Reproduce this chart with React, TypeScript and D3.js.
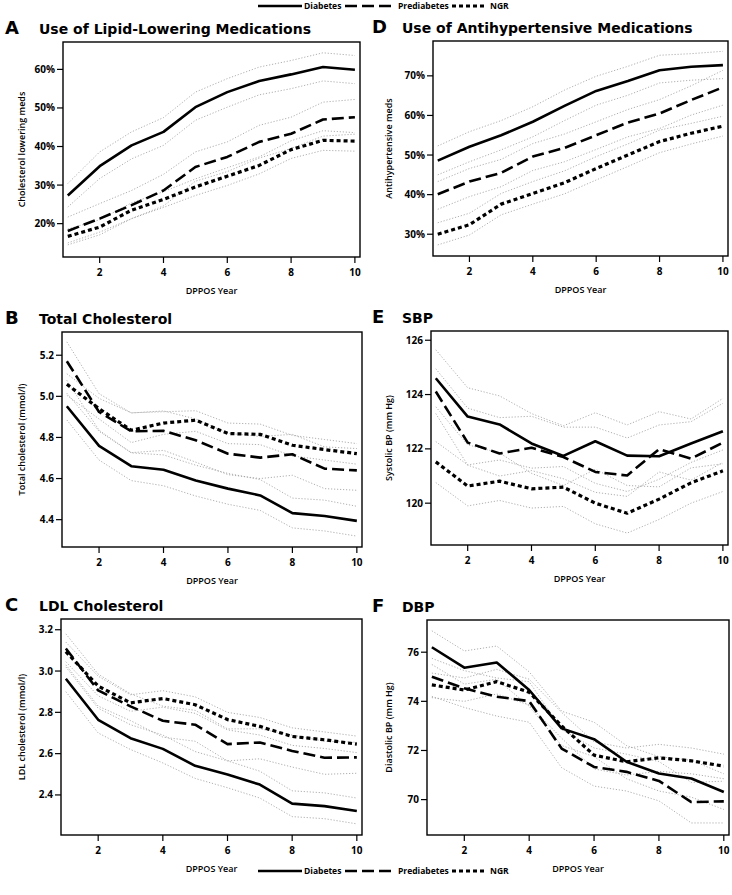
import React from "react";
import * as d3 from "d3";

const years = [1, 2, 3, 4, 5, 6, 7, 8, 9, 10];
const groups = ["Diabetes", "Prediabetes", "NGR"];

// A: lipid-lowering meds (%)
const lipidDia = [27.3, 34.9, 40.3, 43.8, 50.2, 54.1, 57.0, 58.7, 60.6, 59.9];
const lipidDiaHi = [30.4, 38.6, 43.8, 47.5, 54.1, 57.6, 60.6, 62.3, 64.3, 63.6];
const lipidDiaLo = [24.3, 31.7, 36.8, 40.3, 46.8, 50.2, 53.4, 55.0, 57.0, 56.3];
const lipidPre = [18.1, 21.3, 24.8, 28.6, 34.7, 37.3, 41.2, 43.3, 47.0, 47.6];
const lipidPreHi = [21.7, 25.2, 28.6, 32.8, 38.6, 41.2, 45.5, 47.6, 51.5, 52.2];
const lipidPreLo = [15.0, 17.8, 21.3, 24.6, 31.0, 33.5, 37.0, 39.5, 42.7, 43.2];
const lipidNgr = [16.7, 19.1, 23.5, 26.3, 29.5, 32.3, 35.1, 39.2, 41.6, 41.4];
const lipidNgrHi = [18.6, 21.0, 25.4, 28.3, 31.6, 34.5, 37.3, 41.5, 44.1, 43.6];
const lipidNgrLo = [14.5, 17.1, 21.3, 24.2, 27.3, 29.9, 32.9, 36.9, 39.0, 38.8];

// B: total cholesterol (mmol/l)
const tcDia = [4.952, 4.759, 4.66, 4.643, 4.591, 4.551, 4.518, 4.432, 4.418, 4.394];
const tcDiaHi = [5.015, 4.83, 4.725, 4.715, 4.665, 4.625, 4.595, 4.505, 4.495, 4.465];
const tcDiaLo = [4.885, 4.69, 4.59, 4.565, 4.515, 4.475, 4.445, 4.36, 4.345, 4.32];
const tcPre = [5.171, 4.924, 4.83, 4.832, 4.786, 4.721, 4.702, 4.718, 4.648, 4.64];
const tcPreHi = [5.265, 5.013, 4.919, 4.929, 4.89, 4.82, 4.805, 4.815, 4.754, 4.746];
const tcPreLo = [5.078, 4.835, 4.726, 4.737, 4.68, 4.619, 4.6, 4.616, 4.551, 4.543];
const tcNgr = [5.059, 4.94, 4.835, 4.87, 4.884, 4.819, 4.815, 4.762, 4.741, 4.721];
const tcNgrHi = [5.11, 4.99, 4.92, 4.925, 4.93, 4.87, 4.865, 4.81, 4.79, 4.77];
const tcNgrLo = [5.005, 4.89, 4.775, 4.815, 4.83, 4.77, 4.765, 4.71, 4.69, 4.67];

// C: LDL cholesterol (mmol/l)
const ldlDia = [2.963, 2.764, 2.675, 2.623, 2.541, 2.499, 2.45, 2.358, 2.346, 2.322];
const ldlDiaHi = [3.02, 2.82, 2.74, 2.69, 2.61, 2.565, 2.515, 2.42, 2.41, 2.385];
const ldlDiaLo = [2.9, 2.7, 2.62, 2.555, 2.48, 2.435, 2.385, 2.295, 2.285, 2.26];
const ldlPre = [3.109, 2.906, 2.829, 2.759, 2.74, 2.646, 2.654, 2.613, 2.58, 2.582];
const ldlPreHi = [3.18, 2.985, 2.89, 2.83, 2.81, 2.72, 2.72, 2.69, 2.66, 2.655];
const ldlPreLo = [3.03, 2.83, 2.76, 2.68, 2.66, 2.565, 2.575, 2.535, 2.5, 2.505];
const ldlNgr = [3.094, 2.927, 2.846, 2.867, 2.837, 2.765, 2.732, 2.683, 2.667, 2.646];
const ldlNgrHi = [3.14, 2.975, 2.885, 2.905, 2.875, 2.8, 2.775, 2.725, 2.705, 2.685];
const ldlNgrLo = [3.045, 2.88, 2.805, 2.825, 2.795, 2.715, 2.69, 2.64, 2.625, 2.605];

// D: antihypertensive meds (%)
const htnDia = [48.6, 52.1, 55.0, 58.4, 62.4, 66.2, 68.7, 71.4, 72.3, 72.7];
const htnDiaHi = [52.3, 55.9, 58.7, 62.2, 66.4, 69.9, 72.4, 75.2, 75.6, 76.2];
const htnDiaLo = [45.0, 48.3, 51.3, 54.6, 58.7, 62.6, 65.1, 68.2, 68.9, 69.3];
const htnPre = [40.1, 43.3, 45.5, 49.6, 51.8, 55.0, 58.2, 60.5, 63.9, 67.1];
const htnPreHi = [43.3, 46.6, 48.9, 52.9, 55.3, 58.4, 61.5, 64.0, 67.5, 71.4];
const htnPreLo = [36.3, 39.5, 42.0, 46.1, 48.3, 51.4, 54.6, 56.7, 60.1, 62.6];
const htnNgr = [30.0, 32.4, 37.6, 40.3, 43.0, 46.6, 50.0, 53.4, 55.5, 57.3];
const htnNgrHi = [32.9, 35.3, 40.3, 43.3, 46.0, 49.6, 52.8, 56.3, 58.0, 59.8];
const htnNgrLo = [27.3, 29.8, 34.9, 37.6, 40.2, 43.7, 47.1, 50.6, 52.8, 54.8];

// E: SBP (mm Hg)
const sbpDia = [124.6, 123.19, 122.9, 122.2, 121.74, 122.28, 121.75, 121.73, 122.2, 122.65];
const sbpDiaHi = [125.65, 124.25, 123.95, 123.3, 122.85, 123.33, 122.88, 123.37, 123.1, 123.86];
const sbpDiaLo = [123.55, 122.15, 121.85, 121.1, 120.65, 121.25, 120.65, 120.6, 121.3, 121.45];
const sbpPre = [124.11, 122.23, 121.83, 122.04, 121.7, 121.15, 121.02, 121.99, 121.64, 122.23];
const sbpPreHi = [124.95, 123.5, 123.15, 123.2, 122.8, 122.8, 122.4, 122.88, 123.0, 123.68];
const sbpPreLo = [123.3, 121.4, 121.0, 121.2, 120.9, 120.4, 120.25, 121.15, 120.85, 121.5];
const sbpNgr = [121.52, 120.63, 120.81, 120.53, 120.59, 120.0, 119.63, 120.15, 120.75, 121.19];
const sbpNgrHi = [122.27, 121.41, 121.59, 121.29, 121.35, 120.73, 120.43, 120.88, 121.5, 121.96];
const sbpNgrLo = [120.76, 119.9, 120.1, 119.82, 119.88, 119.24, 118.9, 119.4, 120.0, 120.43];

// F: DBP (mm Hg)
const dbpDia = [76.2, 75.37, 75.58, 74.46, 72.9, 72.46, 71.54, 71.06, 70.86, 70.31];
const dbpDiaHi = [76.87, 76.05, 76.25, 75.2, 73.6, 73.15, 72.2, 71.75, 71.6, 71.05];
const dbpDiaLo = [75.5, 74.7, 74.9, 73.8, 72.2, 71.75, 70.85, 70.35, 70.1, 69.6];
const dbpPre = [75.0, 74.53, 74.19, 74.01, 72.08, 71.33, 71.13, 70.76, 69.9, 69.93];
const dbpPreHi = [75.75, 75.25, 74.95, 74.8, 72.85, 72.1, 71.85, 71.55, 70.7, 70.75];
const dbpPreLo = [74.2, 73.75, 73.4, 73.15, 71.3, 70.55, 70.35, 69.95, 69.05, 69.05];
const dbpNgr = [74.67, 74.46, 74.8, 74.37, 73.0, 71.81, 71.54, 71.7, 71.58, 71.36];
const dbpNgrHi = [75.15, 74.95, 75.3, 74.9, 73.55, 72.35, 72.1, 72.25, 72.1, 71.85];
const dbpNgrLo = [74.15, 74.0, 74.3, 73.85, 72.5, 71.25, 71.0, 71.15, 71.05, 70.85];

const xTicks = [2, 4, 6, 8, 10];
const lipidTicks = [20, 30, 40, 50, 60];
const tcTicks = [4.4, 4.6, 4.8, 5.0, 5.2];
const ldlTicks = [2.4, 2.6, 2.8, 3.0, 3.2];
const htnTicks = [30, 40, 50, 60, 70];
const sbpTicks = [120, 122, 124, 126];
const dbpTicks = [70, 72, 74, 76];

const pct = (v: number) => `${v}%`;
const f1 = (v: number) => v.toFixed(1);
const f0 = (v: number) => `${v}`;

const panels = [
  { letter: "A", title: "Use of Lipid-Lowering Medications", ylabel: "Cholesterol lowering meds",
    box: [63, 360, 42, 257], domain: [11.35, 67.1], ticks: lipidTicks, fmt: pct, col: 0,
    series: [[lipidDia, lipidDiaLo, lipidDiaHi], [lipidPre, lipidPreLo, lipidPreHi], [lipidNgr, lipidNgrLo, lipidNgrHi]] },
  { letter: "B", title: "Total Cholesterol", ylabel: "Total cholesterol (mmol/l)",
    box: [62, 362, 332, 547], domain: [4.267, 5.313], ticks: tcTicks, fmt: f1, col: 0,
    series: [[tcDia, tcDiaLo, tcDiaHi], [tcPre, tcPreLo, tcPreHi], [tcNgr, tcNgrLo, tcNgrHi]] },
  { letter: "C", title: "LDL Cholesterol", ylabel: "LDL cholesterol (mmol/l)",
    box: [61, 362, 619, 835], domain: [2.206, 3.252], ticks: ldlTicks, fmt: f1, col: 0,
    series: [[ldlDia, ldlDiaLo, ldlDiaHi], [ldlPre, ldlPreLo, ldlPreHi], [ldlNgr, ldlNgrLo, ldlNgrHi]] },
  { letter: "D", title: "Use of Antihypertensive Medications", ylabel: "Antihypertensive meds",
    box: [433, 728, 41, 256], domain: [24.5, 78.8], ticks: htnTicks, fmt: pct, col: 1,
    series: [[htnDia, htnDiaLo, htnDiaHi], [htnPre, htnPreLo, htnPreHi], [htnNgr, htnNgrLo, htnNgrHi]] },
  { letter: "E", title: "SBP", ylabel: "Systolic BP (mm Hg)",
    box: [431, 728, 331, 545], domain: [118.46, 126.34], ticks: sbpTicks, fmt: f0, col: 1,
    series: [[sbpDia, sbpDiaLo, sbpDiaHi], [sbpPre, sbpPreLo, sbpPreHi], [sbpNgr, sbpNgrLo, sbpNgrHi]] },
  { letter: "F", title: "DBP", ylabel: "Diastolic BP (mm Hg)",
    box: [427, 729, 620, 835], domain: [68.56, 77.31], ticks: dbpTicks, fmt: f0, col: 1,
    series: [[dbpDia, dbpDiaLo, dbpDiaHi], [dbpPre, dbpPreLo, dbpPreHi], [dbpNgr, dbpNgrLo, dbpNgrHi]] },
];

const styles = [
  { dash: undefined as string | undefined, width: 2.6 },
  { dash: "12,5", width: 2.6 },
  { dash: "4,3", width: 3.2 },
];

const FONT = "'Open Sans', 'DejaVu Sans', sans-serif";
const TFONT = "'DejaVu Sans', Verdana, sans-serif";

function Panel({ p }: { p: (typeof panels)[number] }) {
  const [l, r, t, b] = p.box;
  const x = d3.scaleLinear().domain([0.85, 10.16]).range([l, r]);
  const y = d3.scaleLinear().domain(p.domain).range([b, t]);
  const line = d3
    .line<number>()
    .x((_, i) => x(years[i]))
    .y((v) => y(v));
  const letterX = p.col === 0 ? 5 : 372;
  const titleX = p.col === 0 ? 39 : 402;
  const ylabX = p.col === 0 ? 22 : 389;
  return (
    <g>
      <text x={letterX} y={t - 8} fontFamily={TFONT} fontWeight={900} fontSize={18}>{p.letter}</text>
      <text x={titleX} y={t - 8} fontFamily={TFONT} fontWeight={700} fontSize={14}>{p.title}</text>
      {p.series.map((s, si) => (
        <g key={"ci" + si}>
          {[s[1], s[2]].map((arr, k) => (
            <path key={k} d={line(arr) || ""} fill="none" stroke="#9a9a9a" strokeWidth={0.8} strokeDasharray="1.2,1.8" />
          ))}
        </g>
      ))}
      {p.series.map((s, si) => (
        <path key={"m" + si} d={line(s[0]) || ""} fill="none" stroke="#000" strokeWidth={styles[si].width}
          strokeDasharray={styles[si].dash} strokeLinejoin="round" />
      ))}
      <rect x={l} y={t} width={r - l} height={b - t} fill="none" stroke="#000" strokeWidth={1.4} />
      {xTicks.map((v) => (
        <g key={"x" + v}>
          <line x1={x(v)} x2={x(v)} y1={b} y2={b + 6} stroke="#000" strokeWidth={1.2} />
          <text x={x(v)} y={b + 19} textAnchor="middle" fontFamily={FONT} fontWeight={700} fontSize={10}>{v}</text>
        </g>
      ))}
      {p.ticks.map((v) => (
        <g key={"y" + v}>
          <line x1={l - 6} x2={l} y1={y(v)} y2={y(v)} stroke="#000" strokeWidth={1.2} />
          <text x={l - 8} y={y(v)} dy="0.35em" textAnchor="end" fontFamily={FONT} fontWeight={700} fontSize={10}>{p.fmt(v)}</text>
        </g>
      ))}
      <text x={(l + r) / 2} y={b + 37} textAnchor="middle" fontFamily={FONT} fontWeight={600} fontSize={9}>DPPOS Year</text>
      <text transform={`translate(${ylabX},${(t + b) / 2}) rotate(-90)`} textAnchor="middle" dy="0.35em"
        fontFamily={FONT} fontWeight={600} fontSize={9}>{p.ylabel}</text>
    </g>
  );
}

function Legend({ yPos }: { yPos: number }) {
  const items = [
    { x1: 258, x2: 302, tx: 304 },
    { x1: 345, x2: 396, tx: 398 },
    { x1: 452, x2: 487, tx: 490 },
  ];
  return (
    <g>
      {items.map((it, i) => (
        <g key={i}>
          <line x1={it.x1} x2={it.x2} y1={yPos} y2={yPos} stroke="#000" strokeWidth={styles[i].width}
            strokeDasharray={styles[i].dash} />
          <text x={it.tx} y={yPos} dy="0.35em" fontFamily={FONT} fontWeight={700} fontSize={8.5}>{groups[i]}</text>
        </g>
      ))}
    </g>
  );
}

export default function App() {
  return (
    <svg width={732} height={895} style={{ position: "absolute", left: 0, top: 0, background: "#fff" }}>
      <rect width={732} height={895} fill="#fff" />
      <Legend yPos={6} />
      {panels.map((p) => (
        <Panel key={p.letter} p={p} />
      ))}
      <Legend yPos={871} />
    </svg>
  );
}
